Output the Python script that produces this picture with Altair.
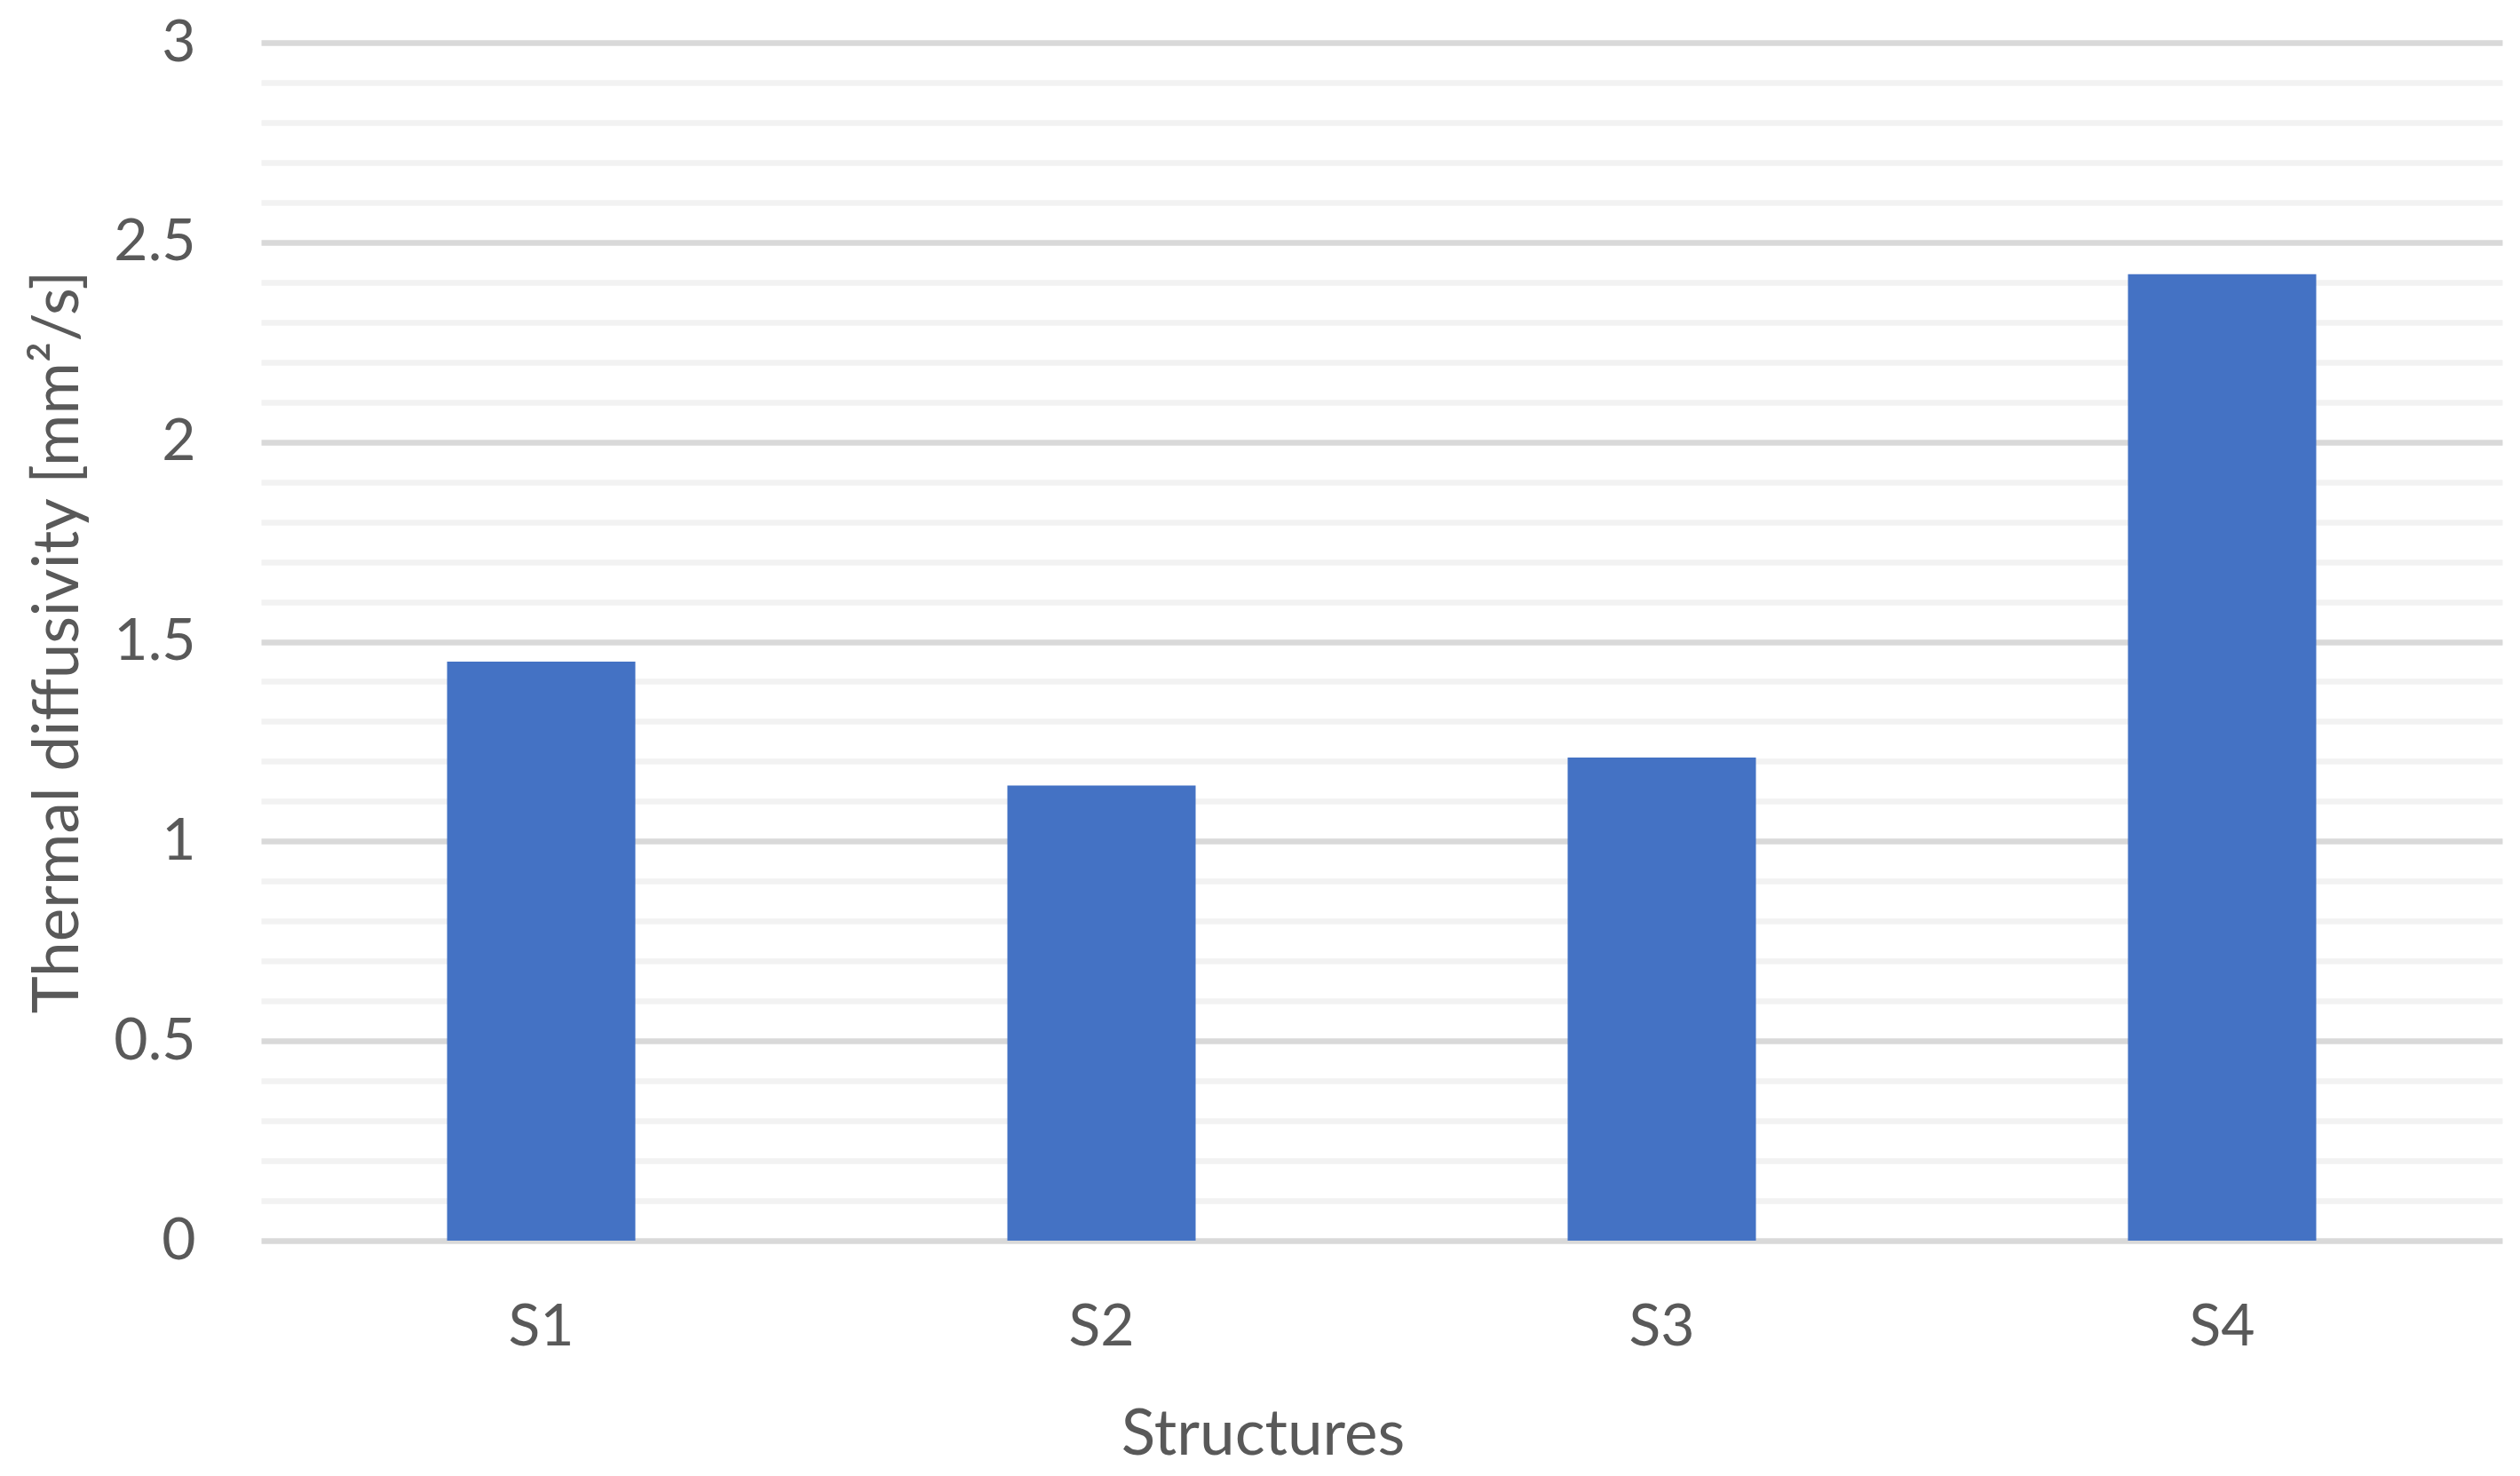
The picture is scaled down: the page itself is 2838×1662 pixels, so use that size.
import altair as alt
import pandas as pd

structures = ["S1", "S2", "S3", "S4"]
diffusivity = [1.45, 1.14, 1.21, 2.42]
major_ticks = [0, 0.5, 1, 1.5, 2, 2.5, 3]
minor_ticks = [0.1, 0.2, 0.3, 0.4, 0.6, 0.7, 0.8, 0.9, 1.1, 1.2, 1.3, 1.4,
               1.6, 1.7, 1.8, 1.9, 2.1, 2.2, 2.3, 2.4, 2.6, 2.7, 2.8, 2.9]

df = pd.DataFrame({"Structure": structures, "Value": diffusivity})

FONT = "Lato"
TEXT = "#595959"
FS = 66
TFS = 71

xscale = alt.Scale(paddingInner=0.664, paddingOuter=0.332)
yscale = alt.Scale(domain=[0, 3], nice=False)

xenc = alt.X("Structure:N", sort=structures, title="Structures", scale=xscale,
             axis=alt.Axis(labelAngle=0, ticks=False, domain=False, grid=False,
                           labelPadding=65, titlePadding=54, titleX=1128,
                           titleAlign="center"))

bars = alt.Chart(df).mark_bar(color="#4472c4").encode(
    x=xenc,
    y=alt.Y("Value:Q", scale=yscale, title="Thermal diffusivity [mm²/s]",
            axis=alt.Axis(orient="left", values=major_ticks, format=".1~f",
                          grid=True, gridColor="#d9d9d9", gridWidth=6.5,
                          ticks=False, domain=False, labelPadding=74,
                          titlePadding=25)),
)

minor = alt.Chart(df).mark_bar(opacity=0).encode(
    x=xenc,
    y=alt.Y("Value:Q", scale=yscale, title=None,
            axis=alt.Axis(orient="right", values=minor_ticks, grid=True,
                          gridColor="#f2f2f2", gridWidth=6.5, labels=False,
                          ticks=False, domain=False)),
)

chart = (
    alt.layer(minor, bars)
    .resolve_axis(y="independent")
    .properties(
        width=2524,
        height=1349,
        autosize=alt.AutoSizeParams(type="none"),
        padding={"left": 286, "top": 40, "right": 12, "bottom": 257},
    )
    .configure_axis(labelFont=FONT, titleFont=FONT, labelColor=TEXT,
                    titleColor=TEXT, labelFontSize=FS, titleFontSize=TFS,
                    titleFontWeight="normal")
    .configure_view(strokeWidth=0)
)

chart.save("out.html", embed_options={"renderer": "svg", "actions": False})
